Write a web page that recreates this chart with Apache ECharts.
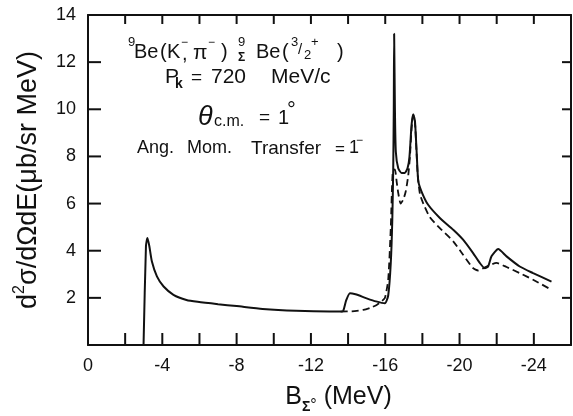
<!DOCTYPE html>
<html>
<head>
<meta charset="utf-8">
<script src="https://cdn.jsdelivr.net/npm/echarts@6/dist/echarts.min.js"></script>
<style>
  html, body { margin: 0; padding: 0; background: #fff; }
  #chart { width: 573px; height: 416px; }
</style>
</head>
<body>
<div id="chart"></div>
<script>
// Sigma hypernuclear spectrum: binding energy (MeV) vs double-differential cross section
const bindingSolid = [-2.99, -3.12, -3.2, -3.3, -3.44, -3.71, -4.07, -4.6, -5.3, -5.9, -7.0, -8.0, -9.4, -11.2, -13.0, -13.6,
  -13.74, -13.9, -14.1, -14.4, -15.0, -15.5, -15.98, -16.16, -16.3, -16.38, -16.43, -16.46, -16.48, -16.52, -16.57,
  -16.7, -16.88, -17.05, -17.2, -17.3, -17.42, -17.51, -17.6, -17.69, -17.78, -17.96, -18.3, -18.94, -19.66, -20.19,
  -20.73, -21.09, -21.36, -21.54, -21.72, -22.08, -22.53, -23.24, -23.96, -24.95];
const xsecSolid = [0, 4.2, 4.54, 4.2, 3.54, 2.91, 2.48, 2.13, 1.91, 1.83, 1.73, 1.65, 1.53, 1.45, 1.42, 1.42,
  1.45, 1.9, 2.2, 2.15, 1.98, 1.85, 1.77, 2.1, 3.5, 5.3, 7.45, 10.0, 13.2, 10.1, 8.2,
  7.5, 7.3, 7.3, 7.5, 7.94, 9.36, 9.79, 9.5, 8.2, 6.95, 6.5, 5.96, 5.39, 4.89, 4.47,
  3.9, 3.48, 3.26, 3.33, 3.76, 4.07, 3.76, 3.33, 3.05, 2.69];

const bindingDashed = [-13.6, -14.2, -14.82, -15.2, -15.54, -15.8, -15.98, -16.16, -16.3, -16.4, -16.52, -16.62, -16.7,
  -16.83, -16.97, -17.1, -17.24, -17.33, -17.42, -17.51, -17.6, -17.69, -17.75, -17.87, -18.05, -18.4, -18.94,
  -19.66, -20.19, -20.73, -21.0, -21.45, -21.99, -22.53, -23.24, -23.96, -24.95];
const xsecDashed = [1.42, 1.43, 1.49, 1.58, 1.70, 1.85, 1.99, 2.77, 5.0, 7.3, 7.45, 6.9, 6.45,
  6.0, 6.17, 6.5, 7.2, 8.0, 9.2, 9.75, 9.45, 8.1, 7.2, 6.4, 6.0, 5.42, 4.96,
  4.4, 3.83, 3.26, 3.16, 3.33, 3.48, 3.31, 3.05, 2.77, 2.34];

const xTickLabels = [0, -4, -8, -12, -16, -20, -24];
const yTickLabels = [2, 4, 6, 8, 10, 12, 14];

const X_MIN = -26, X_MAX = 0, Y_MIN = 0, Y_MAX = 14, STEP = 2;
const FONT = 'Liberation Sans, Arial, sans-serif';
const INK = '#111';

function pairs(xs, ys) { return xs.map((x, i) => [x, ys[i]]); }

// one run of annotation text, left-aligned, vertically centred on y
function piece(text, x, y, size, extra) {
  return {
    type: 'text', x: x, y: y, silent: true, z: 1,
    style: Object.assign({
      text: text, fontSize: size, fontFamily: FONT, fill: INK,
      align: 'left', verticalAlign: 'middle'
    }, extra || {})
  };
}

const notes = [
  // 9Be(K-,pi-) 9_Sigma Be(3/2+)
  piece('9', 128, 42, 13),
  piece('Be', 134, 52, 20),
  piece('(', 160, 52, 20),
  piece('K', 167, 52, 20),
  piece('\u2212', 181, 43, 12),
  piece(',', 182, 54, 20),
  piece('\u03c0', 193, 53, 21),
  piece('\u2212', 208, 43, 12),
  piece(')', 221, 52, 20),
  piece('9', 238, 42, 13),
  piece('\u03a3', 238, 58, 12, { fontWeight: 'bold' }),
  piece('Be', 256, 52, 20),
  piece('(', 282, 52, 20),
  piece('3', 291, 42, 13),
  piece('/', 298, 50, 15),
  piece('2', 304, 55, 13),
  piece('+', 311, 42, 13),
  piece(')', 337, 52, 20),
  // P_k = 720 MeV/c
  piece('P', 165, 77.5, 21),
  piece('k', 175, 84, 14, { fontWeight: 'bold' }),
  piece('=', 191, 78, 19),
  piece('720', 211, 77.5, 21),
  piece('MeV/c', 271, 77.5, 21),
  // theta_c.m. = 1 deg
  piece('\u03b8', 198, 117, 27, { fontStyle: 'italic' }),
  piece('c.m.', 214, 122, 16),
  piece('=', 259, 118, 19),
  piece('1', 278, 118, 20),
  piece('\u00b0', 287, 111, 22),
  // angular momentum transfer
  piece('Ang.', 137, 148.5, 18),
  piece('Mom.', 187, 148.5, 18),
  piece('Transfer', 251, 148.5, 19),
  piece('=', 335, 149, 17),
  piece('1', 349, 148.5, 18),
  piece('\u2212', 356, 141, 12)
];

const axisLine = { show: true, onZero: false, lineStyle: { color: INK, width: 2 } };

const option = {
  animation: false,
  backgroundColor: '#fff',
  grid: { left: 88, right: 2, top: 15, bottom: 71, outerBoundsMode: 'none' },
  xAxis: [{
    type: 'value', min: X_MIN, max: X_MAX, interval: STEP, inverse: true, position: 'bottom',
    axisLine: axisLine,
    axisTick: { show: false },
    splitLine: { show: false },
    axisLabel: {
      margin: 12, fontSize: 18, fontFamily: FONT, color: INK,
      formatter: v => xTickLabels.indexOf(v) >= 0 ? String(v) : ''
    },
    name: '{n|B}{sub|\u03a3}{deg|\u00b0}{n| (MeV)}',
    nameLocation: 'middle', nameGap: 35,
    nameTextStyle: {
      padding: [0, 0, 0, 18],
      rich: {
        n: { fontSize: 25, fontFamily: FONT, color: INK, lineHeight: 34, verticalAlign: 'middle' },
        sub: { fontSize: 14, fontFamily: FONT, color: INK, fontWeight: 'bold', lineHeight: 14, verticalAlign: 'bottom' },
        deg: { fontSize: 16, fontFamily: FONT, color: INK, lineHeight: 26, verticalAlign: 'bottom' }
      }
    }
  }, {
    type: 'value', min: X_MIN, max: X_MAX, interval: STEP, inverse: true, position: 'top',
    axisLine: axisLine, axisTick: { show: false },
    axisLabel: { show: false }, splitLine: { show: false }
  }],
  yAxis: [{
    type: 'value', min: Y_MIN, max: Y_MAX, interval: STEP, position: 'left',
    axisLine: axisLine,
    axisTick: { show: false },
    splitLine: { show: false },
    axisLabel: {
      margin: 12, fontSize: 18, fontFamily: FONT, color: INK,
      formatter: v => yTickLabels.indexOf(v) >= 0 ? String(v) : ''
    },
    name: '{n|d}{s|2}{n|\u03c3/d\u03a9dE(\u03bcb/sr MeV)}',
    nameLocation: 'middle', nameRotate: 90, nameGap: 42,
    nameTextStyle: {
      rich: {
        n: { fontSize: 27, fontFamily: FONT, color: INK, lineHeight: 34, verticalAlign: 'middle' },
        s: { fontSize: 16, fontFamily: FONT, color: INK, lineHeight: 16, verticalAlign: 'top' }
      }
    }
  }, {
    type: 'value', min: Y_MIN, max: Y_MAX, interval: STEP, position: 'right',
    axisLine: axisLine, axisTick: { show: false },
    axisLabel: { show: false }, splitLine: { show: false }
  }],
  series: [{
    name: 'dashed', type: 'line', xAxisIndex: 0, yAxisIndex: 0,
    data: pairs(bindingDashed, xsecDashed),
    showSymbol: false, smooth: 0.2, z: 2,
    lineStyle: { color: INK, width: 1.8, type: [7, 4] }
  }, {
    name: 'solid', type: 'line', xAxisIndex: 0, yAxisIndex: 0,
    data: pairs(bindingSolid, xsecSolid),
    showSymbol: false, smooth: 0.2, z: 3,
    lineStyle: { color: INK, width: 2 }
  }],
  graphic: notes
};

const chart = echarts.init(document.getElementById('chart'), null, { renderer: 'canvas' });
chart.setOption(option);

// inward tick marks on all four sides, placed through the axis scales
function seg(x1, y1, x2, y2) {
  return { type: 'line', silent: true, z: 5,
    shape: { x1: x1, y1: y1, x2: x2, y2: y2 },
    style: { stroke: INK, lineWidth: 2 } };
}
const px = v => chart.convertToPixel({ xAxisIndex: 0 }, v);
const py = v => chart.convertToPixel({ yAxisIndex: 0 }, v);
const xl = px(X_MAX), xr = px(X_MIN), yb = py(Y_MIN), yt = py(Y_MAX);
const tickMarks = [];
for (let v = X_MAX - STEP; v > X_MIN; v -= STEP) {
  const x = px(v);
  tickMarks.push(seg(x, yb, x, yb - 12));
  tickMarks.push(seg(x, yt, x, yt + 9));
}
for (let v = Y_MIN + STEP; v < Y_MAX; v += STEP) {
  const y = py(v);
  tickMarks.push(seg(xl, y, xl + 13, y));
  tickMarks.push(seg(xr, y, xr - 9, y));
}
chart.setOption({ graphic: notes.concat(tickMarks) });
</script>
</body>
</html>
